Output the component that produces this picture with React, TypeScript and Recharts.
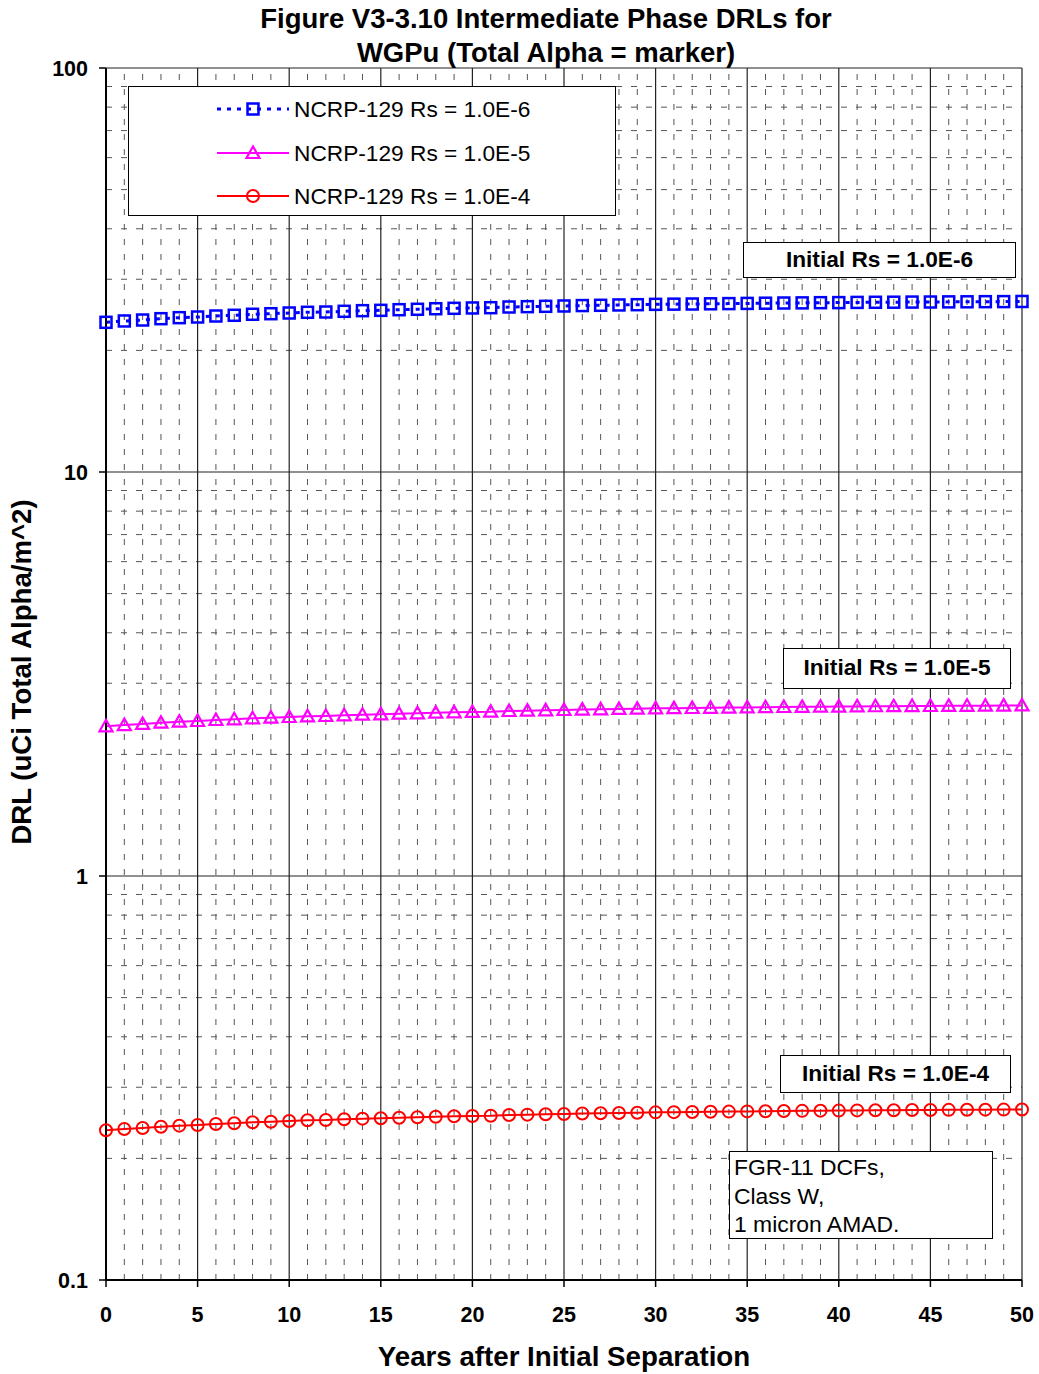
import { LineChart, Line, XAxis, YAxis, ReferenceLine, Legend } from "recharts"

// years after initial separation
const years = Array.from({ length: 51 }, (_, i) => i)

// DRL values (uCi total alpha / m^2)
const rs1e6 = [
  23.47, 23.65, 23.78, 23.96, 24.1, 24.19, 24.33, 24.43, 24.57, 24.65, 24.75,
  24.85, 24.89, 24.99, 25.08, 25.13, 25.22, 25.28, 25.36, 25.42, 25.47,
  25.51, 25.61, 25.66, 25.71, 25.76, 25.82, 25.86, 25.91, 25.95, 26.0,
  26.03, 26.05, 26.08, 26.11, 26.14, 26.17, 26.2, 26.22, 26.25, 26.26,
  26.29, 26.31, 26.32, 26.34, 26.35, 26.37, 26.38, 26.4, 26.41, 26.43,
]
const rs1e5 = [
  2.347, 2.364, 2.379, 2.396, 2.41, 2.419, 2.433, 2.443, 2.457, 2.466, 2.475,
  2.484, 2.489, 2.499, 2.508, 2.513, 2.522, 2.528, 2.536, 2.542, 2.547,
  2.551, 2.561, 2.566, 2.571, 2.576, 2.582, 2.586, 2.591, 2.595, 2.6,
  2.603, 2.605, 2.608, 2.611, 2.614, 2.617, 2.62, 2.622, 2.625, 2.626,
  2.629, 2.631, 2.632, 2.634, 2.635, 2.637, 2.638, 2.64, 2.641, 2.643,
]
const rs1e4 = [
  0.2347, 0.2365, 0.2378, 0.2396, 0.241, 0.2419, 0.2433, 0.2443, 0.2457, 0.2465, 0.2475,
  0.2485, 0.2489, 0.2499, 0.2508, 0.2513, 0.2522, 0.2528, 0.2536, 0.2542, 0.2547,
  0.2551, 0.2561, 0.2566, 0.2571, 0.2576, 0.2582, 0.2586, 0.2591, 0.2595, 0.26,
  0.2603, 0.2605, 0.2608, 0.2611, 0.2614, 0.2617, 0.262, 0.2622, 0.2625, 0.2626,
  0.2629, 0.2631, 0.2632, 0.2634, 0.2635, 0.2637, 0.2638, 0.264, 0.2641, 0.2643,
]

const xTicks = [0, 5, 10, 15, 20, 25, 30, 35, 40, 45, 50]
const yTicks = [0.1, 1, 10, 100]
const xMinor = years.filter((y) => y > 0 && y < 50 && y % 5 !== 0)
const xMajor = [5, 10, 15, 20, 25, 30, 35, 40, 45, 50]
const yMinor = [0.2, 0.3, 0.4, 0.5, 0.6, 0.7, 0.8, 0.9, 2, 3, 4, 5, 6, 7, 8, 9, 20, 30, 40, 50, 60, 70, 80, 90]
const yMajor = [1, 10, 100]

const seriesNames = ["NCRP-129 Rs = 1.0E-6", "NCRP-129 Rs = 1.0E-5", "NCRP-129 Rs = 1.0E-4"]

const data = years.map((year, i) => ({ year, a: rs1e6[i], b: rs1e5[i], c: rs1e4[i] }))

const FONT = '"Liberation Sans", Arial, sans-serif'
const BLUE = "#0000ff"
const MAGENTA = "#ff00ff"
const RED = "#ff0000"

const square = (p: any) => {
  if (p.cx == null || p.cy == null) return <g key={`s${p.index}`} />
  return (
    <rect key={`s${p.index}`} x={p.cx - 5.5} y={p.cy - 5.5} width={11} height={11} fill="none" stroke={BLUE} strokeWidth={2.5} />
  )
}

const triangle = (p: any) => {
  if (p.cx == null || p.cy == null) return <g key={`t${p.index}`} />
  const { cx, cy } = p
  return (
    <path key={`t${p.index}`} d={`M${cx},${cy - 6.5} L${cx + 6.5},${cy + 5} L${cx - 6.5},${cy + 5} Z`} fill="none" stroke={MAGENTA} strokeWidth={2.2} />
  )
}

const circle = (p: any) => {
  if (p.cx == null || p.cy == null) return <g key={`c${p.index}`} />
  return <circle key={`c${p.index}`} cx={p.cx} cy={p.cy} r={6} fill="none" stroke={RED} strokeWidth={2} />
}

function LegendBox() {
  const rows = [
    { name: seriesNames[0], color: BLUE, dash: "4 6", width: 3, mark: <rect x={30.5} y={4.5} width={11} height={11} fill="none" stroke={BLUE} strokeWidth={2.5} /> },
    { name: seriesNames[1], color: MAGENTA, dash: undefined, width: 2, mark: <path d="M36,3.5 L42.5,15 L29.5,15 Z" fill="none" stroke={MAGENTA} strokeWidth={2.2} /> },
    { name: seriesNames[2], color: RED, dash: undefined, width: 2, mark: <circle cx={36} cy={10} r={6} fill="none" stroke={RED} strokeWidth={2} /> },
  ]
  return (
    <div style={{ width: 486, height: 128, border: "1px solid #000", background: "#fff", boxSizing: "content-box", position: "relative" }}>
      {rows.map((r, i) => (
        <div key={r.name} style={{ position: "absolute", left: 88, top: 12 + i * 43.5, height: 20, display: "flex", alignItems: "center" }}>
          <svg width={72} height={20} style={{ display: "block" }}>
            <line x1={0} y1={10} x2={72} y2={10} stroke={r.color} strokeWidth={r.width} strokeDasharray={r.dash} />
            {r.mark}
          </svg>
          <span style={{ marginLeft: 5, fontFamily: FONT, fontSize: 22.7, color: "#000", whiteSpace: "nowrap", lineHeight: "20px" }}>{r.name}</span>
        </div>
      ))}
    </div>
  )
}

const boxStyle = (left: number, top: number, width: number, height: number): React.CSSProperties => ({
  position: "absolute",
  left,
  top,
  width,
  height,
  border: "1.5px solid #000",
  background: "#fff",
  boxSizing: "border-box",
  fontFamily: FONT,
  fontSize: 22.7,
  color: "#000",
})

export default function App() {
  return (
    <div style={{ position: "absolute", left: 0, top: 0, width: 1039, height: 1374, background: "#fff", fontFamily: FONT }}>
      <LineChart width={1039} height={1374} data={data} margin={{ top: 68, right: 17, bottom: 34, left: 0 }} style={{ fontFamily: FONT }}>
        {xMinor.map((v) => (
          <ReferenceLine key={`xm${v}`} x={v} stroke="#555" strokeWidth={1} strokeDasharray="6 9" />
        ))}
        {yMinor.map((v) => (
          <ReferenceLine key={`ym${v}`} y={v} stroke="#555" strokeWidth={1} strokeDasharray="6 9" />
        ))}
        {xMajor.map((v) => (
          <ReferenceLine key={`xM${v}`} x={v} stroke="#222" strokeWidth={1.2} />
        ))}
        {yMajor.map((v) => (
          <ReferenceLine key={`yM${v}`} y={v} stroke="#222" strokeWidth={1.2} />
        ))}
        <XAxis
          type="number"
          dataKey="year"
          domain={[0, 50]}
          ticks={xTicks}
          height={60}
          tickSize={7}
          tickMargin={20}
          axisLine={{ stroke: "#000", strokeWidth: 2 }}
          tickLine={{ stroke: "#000", strokeWidth: 1.5 }}
          tick={{ fill: "#000", fontSize: 21.5, fontWeight: "bold", fontFamily: FONT }}
        />
        <YAxis
          type="number"
          scale="log"
          domain={[0.1, 100]}
          allowDataOverflow
          ticks={yTicks}
          width={106}
          tickSize={7}
          tickMargin={11}
          tickFormatter={(v: number) => String(v)}
          axisLine={{ stroke: "#000", strokeWidth: 2 }}
          tickLine={{ stroke: "#000", strokeWidth: 1.5 }}
          tick={{ fill: "#000", fontSize: 21.5, fontWeight: "bold", fontFamily: FONT }}
        />
        <Legend
          layout="horizontal"
          verticalAlign="middle"
          align="center"
          content={() => <LegendBox />}
          wrapperStyle={{ left: 128, top: 86, width: 488, height: 130 }}
        />
        <Line
          type="linear"
          dataKey="a"
          name={seriesNames[0]}
          stroke={BLUE}
          strokeWidth={3}
          strokeDasharray="4 6"
          dot={square}
          activeDot={false}
          isAnimationActive={false}
        />
        <Line
          type="linear"
          dataKey="b"
          name={seriesNames[1]}
          stroke={MAGENTA}
          strokeWidth={2}
          dot={triangle}
          activeDot={false}
          isAnimationActive={false}
        />
        <Line
          type="linear"
          dataKey="c"
          name={seriesNames[2]}
          stroke={RED}
          strokeWidth={2}
          dot={circle}
          activeDot={false}
          isAnimationActive={false}
        />
      </LineChart>

      <div style={{ position: "absolute", left: 0, top: 2, width: 1092, textAlign: "center", fontFamily: FONT, fontWeight: "bold", fontSize: 27.5, lineHeight: "34px", color: "#000" }}>
        Figure V3-3.10 Intermediate Phase DRLs for
        <br />
        WGPu (Total Alpha = marker)
      </div>

      <div style={{ position: "absolute", left: 106, top: 1340, width: 916, textAlign: "center", fontFamily: FONT, fontWeight: "bold", fontSize: 27.7, lineHeight: "34px", color: "#000" }}>
        Years after Initial Separation
      </div>

      <div
        style={{
          position: "absolute",
          left: 22 - 250,
          top: 672 - 17,
          width: 500,
          height: 34,
          lineHeight: "34px",
          textAlign: "center",
          transform: "rotate(-90deg)",
          fontFamily: FONT,
          fontWeight: "bold",
          fontSize: 27.6,
          color: "#000",
          whiteSpace: "nowrap",
        }}
      >
        DRL (uCi Total Alpha/m^2)
      </div>

      <div style={{ ...boxStyle(743, 242, 273, 36), fontWeight: "bold", textAlign: "center", lineHeight: "33px" }}>Initial Rs = 1.0E-6</div>
      <div style={{ ...boxStyle(783, 648, 228, 41), fontWeight: "bold", textAlign: "center", lineHeight: "37px" }}>Initial Rs = 1.0E-5</div>
      <div style={{ ...boxStyle(780, 1055, 231, 38), fontWeight: "bold", textAlign: "center", lineHeight: "34px" }}>Initial Rs = 1.0E-4</div>
      <div style={{ ...boxStyle(729, 1151, 264, 88), padding: "1px 0 0 4px", lineHeight: "28.5px", fontSize: 22.9 }}>
        FGR-11 DCFs,
        <br />
        Class W,
        <br />1 micron AMAD.
      </div>
    </div>
  )
}
